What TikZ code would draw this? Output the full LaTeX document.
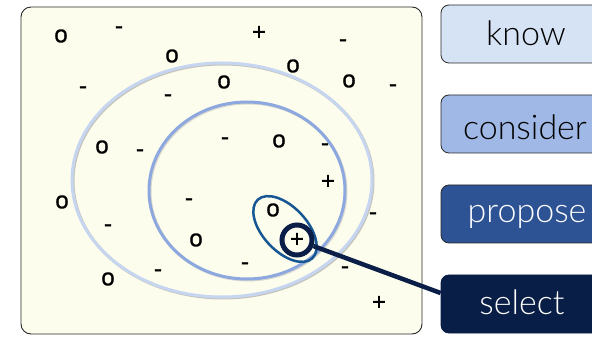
\documentclass[tikz,border=0pt]{standalone}
\usepackage{fontspec}
\setmainfont{Liberation Sans}
\newfontfamily\boxfont{Lato}[UprightFont={* Light}]
\newfontfamily\symfont{Liberation Sans}[FakeBold=1]
\definecolor{panelfill}{RGB}{253,253,238}
\definecolor{panelline}{RGB}{40,40,40}
\definecolor{knowfill}{RGB}{214,227,245}
\definecolor{considerfill}{RGB}{160,184,230}
\definecolor{proposefill}{RGB}{46,83,148}
\definecolor{selectfill}{RGB}{9,30,70}
\definecolor{outerell}{RGB}{198,214,240}
\definecolor{midell}{RGB}{140,168,222}
\definecolor{smallell}{RGB}{22,86,146}
\definecolor{navy}{RGB}{10,30,72}
\tikzset{
  sym/.style={inner sep=0pt, font=\symfont\fontsize{24}{24}\selectfont},
  stagebox/.style={rounded corners=8pt, minimum width=168pt, minimum height=58pt, draw=panelline, line width=0.8pt},
  stagetext/.style={anchor=base, inner sep=0pt, font=\boxfont\fontsize{34}{34}\selectfont},
  shadowline/.style={draw=black!45, line width=3pt, opacity=0.5},
}
\begin{document}
\begin{tikzpicture}[x=1pt,y=1pt]
\useasboundingbox (0,0) rectangle (592,-339);
\clip (0,0) rectangle (592,-339);
% panel
\node[draw=panelline, fill=panelfill, rounded corners=10pt, line width=0.9pt,
      minimum width=401pt, minimum height=327pt, inner sep=0pt] (panel) at (221.5,-170.5) {};
% ellipses
\draw[shadowline] (223,-181) ellipse [x radius=150, y radius=117];
\draw[outerell, line width=3pt] (222,-180) ellipse [x radius=150, y radius=117];
\draw[shadowline, opacity=0.3] (248,-191.5) ellipse [x radius=98, y radius=88.5];
\draw[midell, line width=3pt] (247,-190.5) ellipse [x radius=98, y radius=88.5];
\draw[smallell, line width=2.5pt, rotate around={-47:(285,-229)}] (285,-229) ellipse [x radius=40, y radius=22];
% symbols
\node[sym] (s1) at (61,-36) {o};
\node[sym] (s2) at (119,-30) {-};
\node[sym] (s3) at (259,-33) {+};
\node[sym] (s4) at (172,-56) {o};
\node[sym] (s5) at (343,-43) {-};
\node[sym] (s6) at (293,-66) {o};
\node[sym] (s7) at (83,-90) {-};
\node[sym] (s8) at (168,-98) {-};
\node[sym] (s9) at (224,-82) {o};
\node[sym] (s10) at (349,-81) {o};
\node[sym] (s11) at (393,-88) {-};
\node[sym] (s12) at (102,-147) {o};
\node[sym] (s13) at (140,-153) {-};
\node[sym] (s14) at (225,-141) {-};
\node[sym] (s15) at (279,-141) {o};
\node[sym] (s16) at (325,-147) {-};
\node[sym] (s17) at (328,-182) {+};
\node[sym] (s18) at (62,-202) {o};
\node[sym] (s19) at (189,-202) {-};
\node[sym] (s20) at (273,-210) {o};
\node[sym] (s21) at (373,-216) {-};
\node[sym] (s22) at (108,-228) {-};
\node[sym] (s23) at (196,-240) {o};
\node[sym] (s24) at (245,-266) {-};
\node[sym] (s25) at (345,-270) {-};
\node[sym] (s26) at (158,-273) {-};
\node[sym] (s27) at (108,-279) {o};
\node[sym] (s28) at (379,-303) {+};
% selected
\node[circle, draw=navy, line width=5pt, minimum size=30pt, inner sep=0pt] (sel) at (297,-240) {};
\node[sym] (selplus) at (297,-240) {+};
% boxes
\node[stagebox, fill=knowfill] (know) at (525,-34) {};
\node[stagebox, fill=considerfill] (consider) at (525,-124) {};
\node[stagebox, fill=proposefill, draw=panelline] (propose) at (525,-214) {};
\node[stagebox, fill=selectfill, draw=navy] (select) at (525,-304) {};
\draw[navy, line width=4.5pt] (sel) -- ([yshift=11pt]select.west);
\node[stagetext, text=black] (knowt) at (526,-46) {know};
\node[stagetext, text=black] (considert) at (525,-140) {consider};
\node[stagetext, text=white] (proposet) at (527,-223) {propose};
\node[stagetext, text=white] (selectt) at (522,-315) {select};
\end{tikzpicture}
\end{document}
